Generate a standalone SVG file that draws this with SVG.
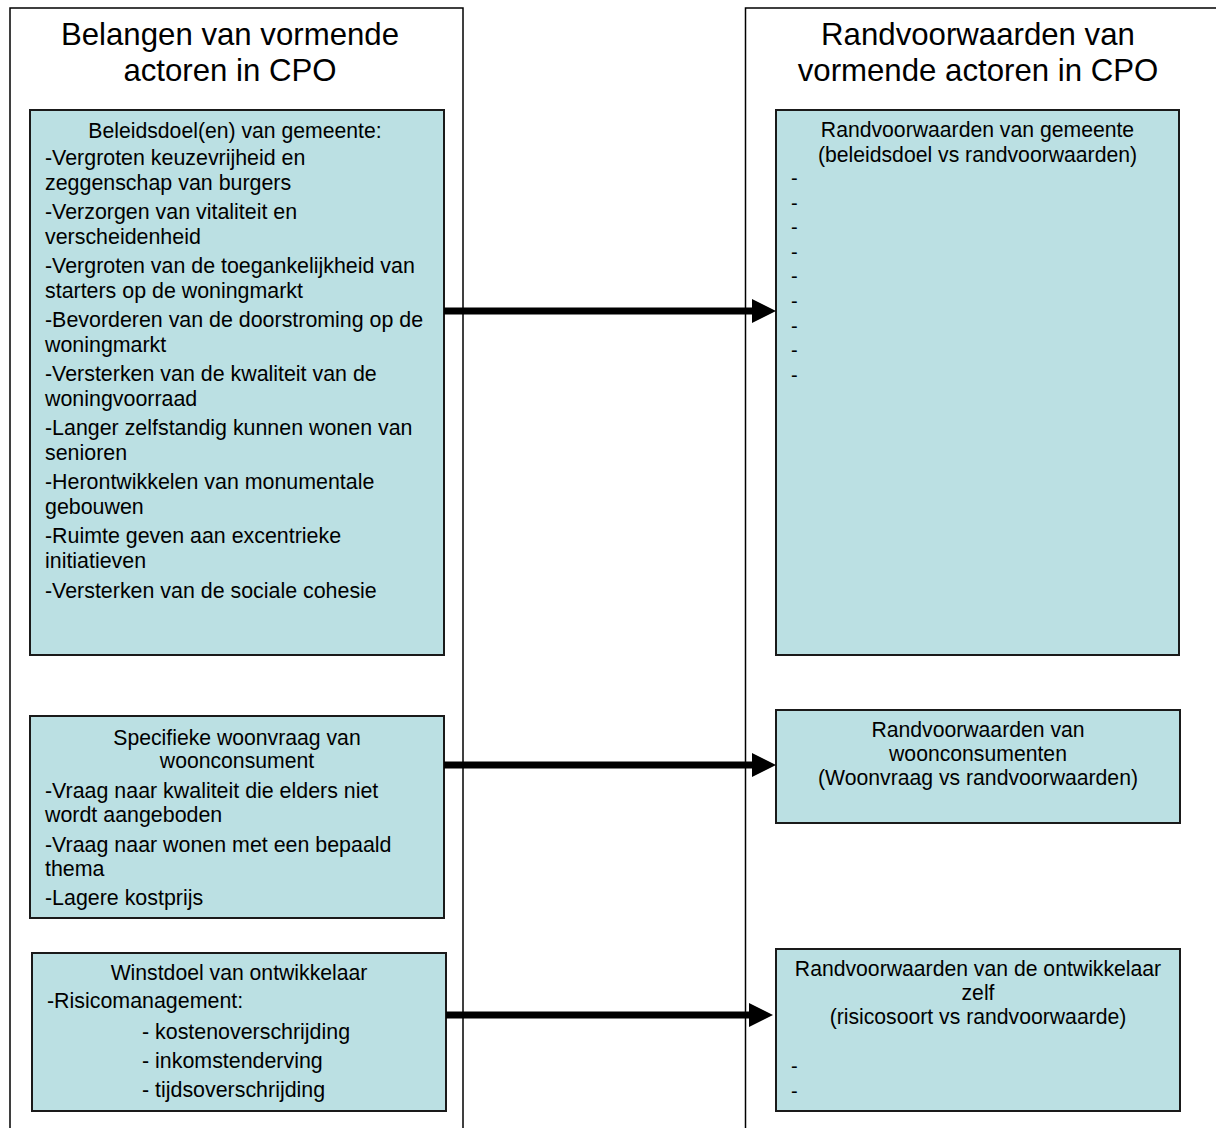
<svg xmlns="http://www.w3.org/2000/svg" width="1216" height="1128" viewBox="0 0 1216 1128">
<defs>
<style>
.frame{fill:#ffffff;stroke:#000000;stroke-width:1.5}
.box{fill:#BBE0E3;stroke:#1a1a1a;stroke-width:2}
text{font-family:"Liberation Sans",Arial,sans-serif;fill:#000000}
.hdr{font-size:31.2px;text-anchor:middle}
.ttl{font-size:21.2px;text-anchor:middle}
.itm{font-size:21.4px}
.dsh{font-size:20px}
.conn{stroke:#000000;stroke-width:7;fill:none}
</style>
<marker id="ah" viewBox="0 0 24 24" markerWidth="24" markerHeight="24" refX="2" refY="12" markerUnits="userSpaceOnUse" orient="auto">
<path d="M0,0 L24,12 L0,24 z" fill="#000000"/>
</marker>
</defs>
<rect width="1216" height="1128" fill="#ffffff"/>
<g id="col-left">
<rect class="frame" x="10" y="8" width="453" height="1140"/>
<text class="hdr" x="230" y="45">Belangen van vormende</text>
<text class="hdr" x="230" y="81">actoren in CPO</text>
</g>
<g id="col-right">
<rect class="frame" x="745.5" y="8" width="480" height="1140"/>
<text class="hdr" x="978" y="45">Randvoorwaarden van</text>
<text class="hdr" x="978" y="81">vormende actoren in CPO</text>
</g>
<g id="node-beleidsdoel">
<rect class="box" x="30" y="110" width="414" height="545"/>
<text class="ttl" x="235" y="138">Beleidsdoel(en) van gemeente:</text>
<text class="itm" x="45" y="165">-Vergroten keuzevrijheid en</text>
<text class="itm" x="45" y="190">zeggenschap van burgers</text>
<text class="itm" x="45" y="219">-Verzorgen van vitaliteit en</text>
<text class="itm" x="45" y="244">verscheidenheid</text>
<text class="itm" x="45" y="273">-Vergroten van de toegankelijkheid van</text>
<text class="itm" x="45" y="298">starters op de woningmarkt</text>
<text class="itm" x="45" y="327">-Bevorderen van de doorstroming op de</text>
<text class="itm" x="45" y="352">woningmarkt</text>
<text class="itm" x="45" y="381">-Versterken van de kwaliteit van de</text>
<text class="itm" x="45" y="406">woningvoorraad</text>
<text class="itm" x="45" y="435">-Langer zelfstandig kunnen wonen van</text>
<text class="itm" x="45" y="460">senioren</text>
<text class="itm" x="45" y="489">-Herontwikkelen van monumentale</text>
<text class="itm" x="45" y="514">gebouwen</text>
<text class="itm" x="45" y="543">-Ruimte geven aan excentrieke</text>
<text class="itm" x="45" y="568">initiatieven</text>
<text class="itm" x="45" y="598">-Versterken van de sociale cohesie</text>
</g>
<g id="node-woonvraag">
<rect class="box" x="30" y="716" width="414" height="202"/>
<text class="ttl" x="237" y="745">Specifieke woonvraag van</text>
<text class="ttl" x="237" y="768">woonconsument</text>
<text class="itm" x="45" y="798">-Vraag naar kwaliteit die elders niet</text>
<text class="itm" x="45" y="822">wordt aangeboden</text>
<text class="itm" x="45" y="852">-Vraag naar wonen met een bepaald</text>
<text class="itm" x="45" y="876">thema</text>
<text class="itm" x="45" y="905">-Lagere kostprijs</text>
</g>
<g id="node-winstdoel">
<rect class="box" x="32" y="953" width="414" height="158"/>
<text class="ttl" x="239" y="980">Winstdoel van ontwikkelaar</text>
<text class="itm" x="47" y="1008">-Risicomanagement:</text>
<text class="itm" x="142" y="1039">- kostenoverschrijding</text>
<text class="itm" x="142" y="1068">- inkomstenderving</text>
<text class="itm" x="142" y="1097">- tijdsoverschrijding</text>
</g>
<g id="node-rv-gemeente">
<rect class="box" x="776" y="110" width="403" height="545"/>
<text class="ttl" x="977.5" y="137">Randvoorwaarden van gemeente</text>
<text class="ttl" x="977.5" y="162">(beleidsdoel vs randvoorwaarden)</text>
<text class="dsh" x="791" y="185">-</text>
<text class="dsh" x="791" y="209.5">-</text>
<text class="dsh" x="791" y="234">-</text>
<text class="dsh" x="791" y="258.5">-</text>
<text class="dsh" x="791" y="283">-</text>
<text class="dsh" x="791" y="308">-</text>
<text class="dsh" x="791" y="333">-</text>
<text class="dsh" x="791" y="357">-</text>
<text class="dsh" x="791" y="382">-</text>
</g>
<g id="node-rv-woonconsumenten">
<rect class="box" x="776" y="710" width="404" height="113"/>
<text class="ttl" x="978" y="737">Randvoorwaarden van</text>
<text class="ttl" x="978" y="761">woonconsumenten</text>
<text class="ttl" x="978" y="785">(Woonvraag vs randvoorwaarden)</text>
</g>
<g id="node-rv-ontwikkelaar">
<rect class="box" x="776" y="949" width="404" height="162"/>
<text class="ttl" x="978" y="976">Randvoorwaarden van de ontwikkelaar</text>
<text class="ttl" x="978" y="1000">zelf</text>
<text class="ttl" x="978" y="1024">(risicosoort vs randvoorwaarde)</text>
<text class="dsh" x="791" y="1073">-</text>
<text class="dsh" x="791" y="1098">-</text>
</g>
<g id="connectors">
<line class="conn" x1="444" y1="311" x2="754" y2="311" marker-end="url(#ah)"/>
<line class="conn" x1="444" y1="765" x2="754" y2="765" marker-end="url(#ah)"/>
<line class="conn" x1="446" y1="1015" x2="751" y2="1015" marker-end="url(#ah)"/>
</g>
</svg>
